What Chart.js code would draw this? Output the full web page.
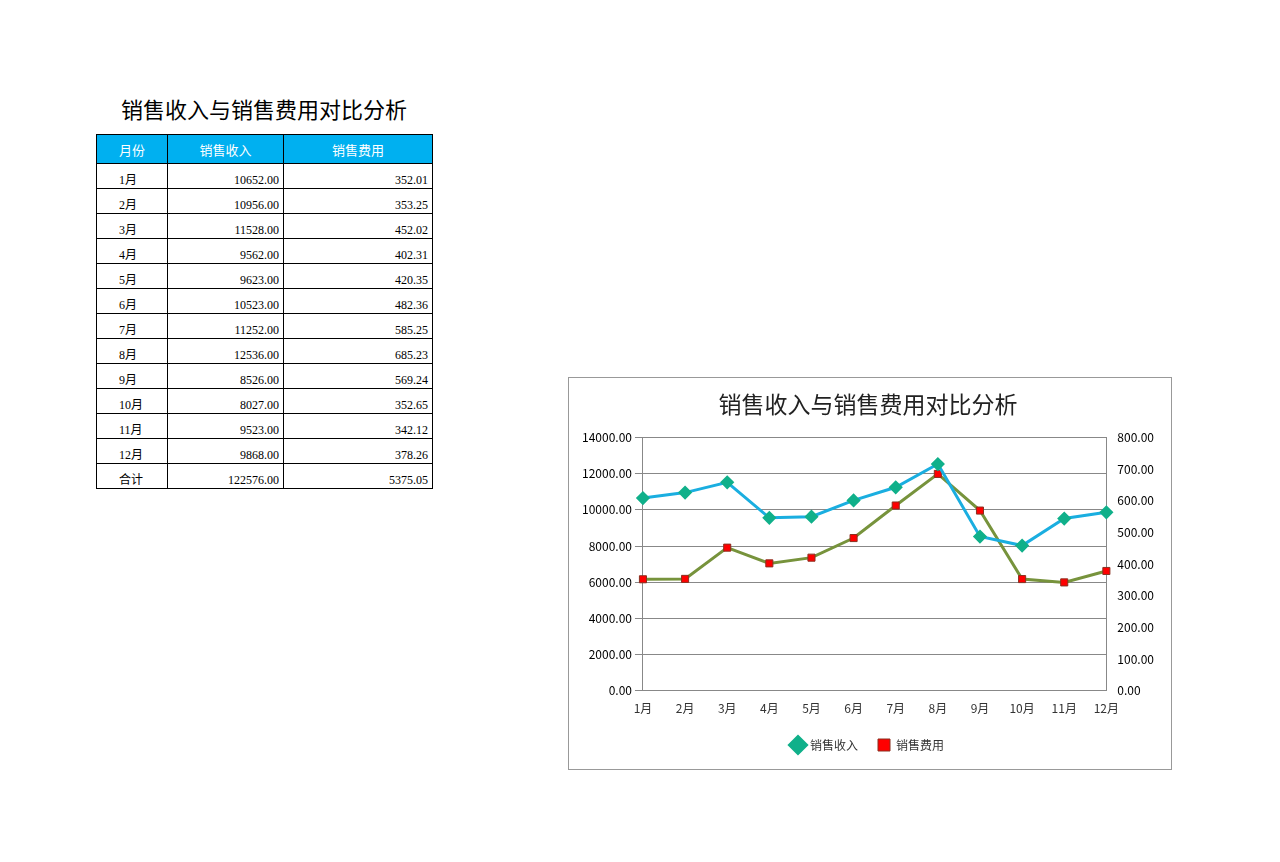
<!DOCTYPE html>
<html><head><meta charset="utf-8">
<script src="https://cdn.jsdelivr.net/npm/chart.js@4"></script>
<style>
body{margin:0;width:1280px;height:862px;background:#fff;position:relative;font-family:"Noto Sans CJK SC",sans-serif}
#title{position:absolute;left:96px;width:336px;top:92px;text-align:center;font-size:22px;color:#000}
table{position:absolute;left:96px;top:134px;border-collapse:collapse;font-family:"Liberation Serif","Noto Sans CJK SC",serif;font-size:12px}
td,th{border:1.5px solid #000;padding:0 4px;height:24px}
th{background:#00b0f0;color:#fff;font-weight:normal;height:28px;font-family:"Noto Sans CJK SC",sans-serif;font-size:13px}
td{text-align:right;vertical-align:bottom}
td:first-child{text-align:left;padding-left:22px}
#box{position:absolute;left:568px;top:377px;width:602px;height:391px;border:1px solid #999}
</style></head><body>
<div id="title">销售收入与销售费用对比分析</div>
<table id="tbl"><tr><th style="width:62px">月份</th><th style="width:107px">销售收入</th><th style="width:140px">销售费用</th></tr></table>
<div id="box"><canvas id="c" width="602" height="391"></canvas></div>
<script>
const months = ['1月','2月','3月','4月','5月','6月','7月','8月','9月','10月','11月','12月'];
const revenue = [10652,10956,11528,9562,9623,10523,11252,12536,8526,8027,9523,9868];
const expense = [352.01,353.25,452.02,402.31,420.35,482.36,585.25,685.23,569.24,352.65,342.12,378.26];

const tbl = document.getElementById('tbl');
months.forEach((m, i) => {
    const tr = tbl.insertRow();
    tr.innerHTML = '<td>' + m + '</td><td>' + revenue[i].toFixed(2) + '</td><td>' + expense[i].toFixed(2) + '</td>';
});
const totR = revenue.reduce((a, b) => a + b, 0);
const totE = expense.reduce((a, b) => a + b, 0);
tbl.insertRow().innerHTML = '<td>合计</td><td>' + totR.toFixed(2) + '</td><td>' + totE.toFixed(2) + '</td>';

const font = {family: '"Noto Sans CJK SC", sans-serif', size: 12};
new Chart(document.getElementById('c'), {
    type: 'line',
    data: {
        labels: months,
        datasets: [
            {label: '销售收入', data: revenue, yAxisID: 'y', borderColor: '#1aaee0', borderWidth: 3,
             pointStyle: 'rectRot', pointRadius: 5, pointBackgroundColor: '#10b08a', pointBorderColor: '#10b08a', tension: 0},
            {label: '销售费用', data: expense, yAxisID: 'y1', borderColor: '#77933c', borderWidth: 3,
             pointStyle: 'rect', pointRadius: 5, pointBackgroundColor: '#ff0000', pointBorderColor: '#8a3020', pointBorderWidth: 1, tension: 0}
        ]
    },
    options: {
        responsive: false,
        animation: false,
        layout: {padding: {left: 10, right: 14, top: 4, bottom: 8}},
        plugins: {
            title: {display: true, text: '销售收入与销售费用对比分析', color: '#222',
                    font: {family: font.family, size: 23, weight: 'normal'}, padding: {top: 8, bottom: 20}},
            legend: {position: 'bottom', labels: {usePointStyle: true, color: '#333', font: font, padding: 20}}
        },
        scales: {
            x: {grid: {display: false}, border: {color: '#888'}, ticks: {color: '#333', font: font}},
            y: {position: 'left', min: 0, max: 14000, ticks: {stepSize: 2000, color: '#000', font: font,
                callback: v => v.toFixed(2)}, grid: {color: '#888', drawTicks: true}, border: {color: '#888'}},
            y1: {position: 'right', min: 0, max: 800, ticks: {stepSize: 100, color: '#000', font: font,
                callback: v => v.toFixed(2)}, grid: {display: false}, border: {color: '#888'}}
        }
    }
});
</script>
</body></html>
